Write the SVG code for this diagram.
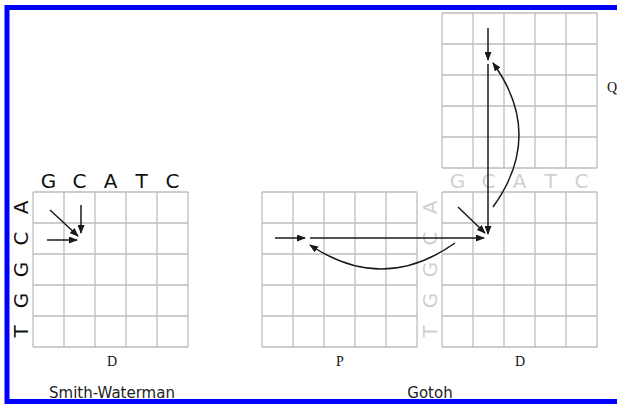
<svg xmlns="http://www.w3.org/2000/svg" width="617" height="404" viewBox="0 0 617 404">
<defs>
<style>
.grid{fill:none;stroke:#bdbdbd;stroke-width:1.3}
.lbl{font-family:"DejaVu Sans",sans-serif;font-size:20px;text-anchor:middle}
.dark{fill:#111}
.light{fill:#d0d0d0}
.mat{font-family:"Liberation Serif",serif;font-size:14px;text-anchor:middle;fill:#111}
.cap{font-family:"DejaVu Sans",sans-serif;font-size:15px;text-anchor:middle;fill:#222}
.arr{fill:none;stroke:#1a1a1a;stroke-width:1.5;marker-end:url(#ah)}
</style>
<marker id="ah" markerUnits="userSpaceOnUse" markerWidth="9" markerHeight="7" refX="8" refY="3.5" orient="auto">
<path d="M0,0 L9,3.5 L0,7 z" fill="#1a1a1a"/>
</marker>
</defs>
<rect x="0" y="0" width="617" height="404" fill="#fff"/>

<g id="sw-grid">
<path class="grid" d="M33,192H188M33,223H188M33,254H188M33,285H188M33,316H188M33,347H188M33,192V347M64,192V347M95,192V347M126,192V347M157,192V347M188,192V347"/>
<text class="lbl dark" x="48.5" y="188">G</text>
<text class="lbl dark" x="79.5" y="188">C</text>
<text class="lbl dark" x="110.5" y="188">A</text>
<text class="lbl dark" x="141.5" y="188">T</text>
<text class="lbl dark" x="172.5" y="188">C</text>
<text class="lbl dark" transform="translate(28,207.5) rotate(-90)">A</text>
<text class="lbl dark" transform="translate(28,238.5) rotate(-90)">C</text>
<text class="lbl dark" transform="translate(28,269.5) rotate(-90)">G</text>
<text class="lbl dark" transform="translate(28,300.5) rotate(-90)">G</text>
<text class="lbl dark" transform="translate(28,331.5) rotate(-90)">T</text>
<text class="mat" x="112" y="366">D</text>
</g>

<g id="p-grid">
<path class="grid" d="M262,192H417M262,223H417M262,254H417M262,285H417M262,316H417M262,347H417M262,192V347M293,192V347M324,192V347M355,192V347M386,192V347M417,192V347"/>
<text class="mat" x="340" y="366">P</text>
</g>

<g id="d-grid">
<path class="grid" d="M442,192H597M442,223H597M442,254H597M442,285H597M442,316H597M442,347H597M442,192V347M473,192V347M504,192V347M535,192V347M566,192V347M597,192V347"/>
<text class="lbl light" x="457.5" y="188">G</text>
<text class="lbl light" x="488.5" y="188">C</text>
<text class="lbl light" x="519.5" y="188">A</text>
<text class="lbl light" x="550.5" y="188">T</text>
<text class="lbl light" x="581.5" y="188">C</text>
<text class="lbl light" transform="translate(437,207.5) rotate(-90)">A</text>
<text class="lbl light" transform="translate(437,238.5) rotate(-90)">C</text>
<text class="lbl light" transform="translate(437,269.5) rotate(-90)">G</text>
<text class="lbl light" transform="translate(437,300.5) rotate(-90)">G</text>
<text class="lbl light" transform="translate(437,331.5) rotate(-90)">T</text>
<text class="mat" x="520" y="366">D</text>
</g>

<g id="q-grid">
<path class="grid" d="M442,13H597M442,44H597M442,75H597M442,106H597M442,137H597M442,168H597M442,13V168M473,13V168M504,13V168M535,13V168M566,13V168M597,13V168"/>
<text class="mat" x="612" y="92">Q</text>
</g>

<g id="connectors">
<line class="arr" x1="50" y1="210" x2="78" y2="236"/>
<line class="arr" x1="81" y1="205" x2="81" y2="233"/>
<line class="arr" x1="47" y1="240" x2="77" y2="240"/>

<line class="arr" x1="488" y1="28" x2="488" y2="60"/>
<line class="arr" x1="488" y1="64" x2="488" y2="234"/>
<line class="arr" x1="458" y1="207" x2="485" y2="233"/>
<line class="arr" x1="310" y1="238" x2="484" y2="238"/>
<line class="arr" x1="275" y1="238" x2="305" y2="238"/>
<path class="arr" d="M455,243 Q383,294 310,245"/>
<path class="arr" d="M493,207 Q545,135 493,63"/>
</g>

<g id="captions">
<text class="cap" x="112" y="398">Smith-Waterman</text>
<text class="cap" x="430" y="398">Gotoh</text>
</g>

<rect x="7" y="7.5" width="620" height="394" fill="none" stroke="#0000ff" stroke-width="5"/>
</svg>
